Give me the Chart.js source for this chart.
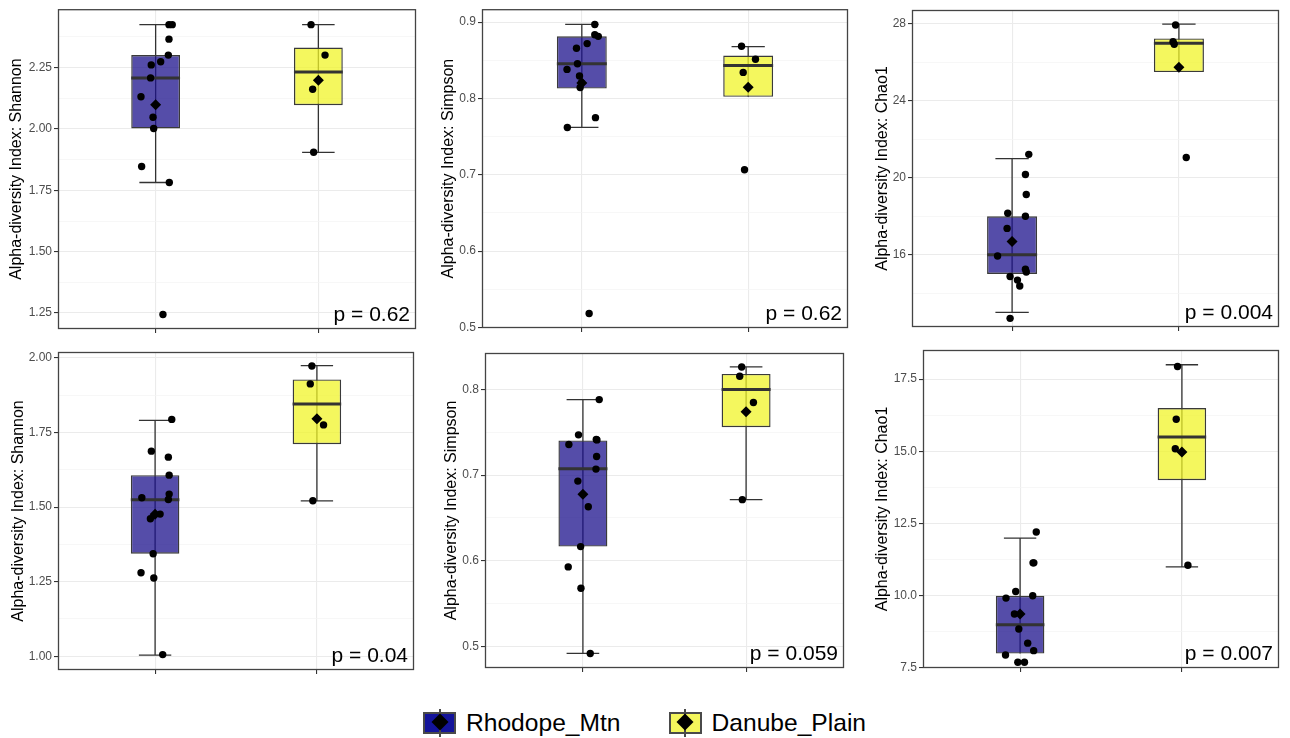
<!DOCTYPE html>
<html>
<head>
<meta charset="utf-8">
<script src="https://cdn.jsdelivr.net/npm/chart.js@4.4.0/dist/chart.umd.min.js"></script>
<style>
    body { margin: 0; background: #fff; width: 1290px; height: 738px; position: relative; overflow: hidden;
           font-family: "Liberation Sans", Arial, sans-serif; }
    .painel { position: absolute; }
    #legenda { position: absolute; left: 423px; top: 707px; height: 32px; display: flex; align-items: center; }
    .item { display: flex; align-items: center; font-size: 24.6px; color: #000; margin-right: 48px; }
    .chave { position: relative; width: 33px; height: 22px; box-sizing: border-box; border: 2px solid #4a4a4a; margin-right: 10px; }
    .chave::before { content: ''; position: absolute; left: 13.5px; top: -5px; width: 2px; height: 28px; background: #4a4a4a; }
    .chave::after { content: ''; position: absolute; left: 8.5px; top: 1.5px; width: 12px; height: 12px; background: #000; transform: rotate(45deg); }
</style>
</head>
<body>
<div id="paineis"></div>
<div id="legenda"></div>
<script>
// Grupos e índices de diversidade
const grupos = ['Rhodope_Mtn', 'Danube_Plain'];
const indices = ['Shannon', 'Simpson', 'Chao1', 'Shannon', 'Simpson', 'Chao1'];
const valoresP = ['0.62', '0.62', '0.004', '0.04', '0.059', '0.007'];

// Eixo y de cada painel: [min, max], marcas principais e casas decimais
const limitesY = [[1.185, 2.488], [0.4992, 0.917], [12.24, 28.73], [0.954, 2.02], [0.4748, 0.8427], [7.5, 18.51]];
const ticksY = [
    [1.25, 1.5, 1.75, 2.0, 2.25],
    [0.5, 0.6, 0.7, 0.8, 0.9],
    [16, 20, 24, 28],
    [1.0, 1.25, 1.5, 1.75, 2.0],
    [0.5, 0.6, 0.7, 0.8],
    [7.5, 10, 12.5, 15, 17.5]
];
const casasY = [2, 1, 0, 2, 1, 1];

// Caixas: [bigode inferior, q1, mediana, q3, bigode superior]
const caixasRhodope = [
    [1.782, 2.002, 2.208, 2.301, 2.425],
    [0.762, 0.813, 0.8455, 0.8814, 0.897],
    [13, 15, 16, 18, 21],
    [1.004, 1.344, 1.525, 1.607, 1.791],
    [0.4918, 0.6166, 0.7075, 0.7406, 0.7883],
    [8, 8, 9, 10, 12]
];
const caixasDanube = [
    [1.905, 2.097, 2.232, 2.332, 2.425],
    [0.8022, 0.8022, 0.8433, 0.8563, 0.868],
    [25.5, 25.5, 27, 27.25, 28],
    [1.521, 1.711, 1.846, 1.928, 1.974],
    [0.6714, 0.7561, 0.80, 0.8183, 0.8264],
    [11, 14, 15.5, 16.5, 18]
];
const mediasRhodope = [2.099, 0.8203, 16.69, 1.476, 0.6776, 9.37];
const mediasDanube = [2.199, 0.8147, 25.75, 1.796, 0.774, 14.98];

// Amostras (valores lidos) e deslocamento horizontal do jitter
const pontosRhodope = [
    [2.425, 2.425, 2.366, 2.301, 2.274, 2.261, 2.208, 2.131, 2.048, 2.002, 1.847, 1.782, 1.244],
    [0.897, 0.8835, 0.8814, 0.8719, 0.8658, 0.8455, 0.8381, 0.8294, 0.8208, 0.8143, 0.7749, 0.7619, 0.5182],
    [21.22, 20.17, 19.13, 18.16, 18.0, 17.37, 15.93, 15.25, 15.10, 14.87, 14.68, 14.37, 12.69],
    [1.794, 1.6876, 1.6675, 1.6072, 1.5436, 1.5313, 1.5257, 1.4766, 1.461, 1.3438, 1.2802, 1.2623, 1.0057],
    [0.7883, 0.7471, 0.7417, 0.7412, 0.7359, 0.7219, 0.7071, 0.6931, 0.6632, 0.6166, 0.5929, 0.568, 0.4918],
    [12.21, 11.14, 11.14, 10.15, 10.0, 9.92, 9.37, 8.85, 8.36, 8.1, 7.95, 7.7, 7.7]
];
const jitterRhodope = [
    [0.082, 0.102, 0.082, 0.078, 0.031, -0.027, -0.031, -0.09, -0.016, -0.012, -0.086, 0.084, 0.045],
    [0.078, 0.078, 0.099, 0.032, -0.032, -0.026, -0.089, -0.014, -0.002, -0.01, 0.082, -0.087, 0.044],
    [0.1, 0.08, 0.085, -0.026, 0.08, -0.03, -0.087, 0.08, 0.085, -0.012, 0.032, 0.046, -0.012],
    [0.103, -0.023, 0.082, 0.087, 0.087, -0.082, 0.082, 0.031, -0.029, -0.012, -0.087, -0.008, 0.047],
    [0.1, -0.027, 0.082, 0.086, -0.086, 0.084, 0.08, -0.031, 0.033, -0.014, -0.09, -0.012, 0.045],
    [0.1, 0.08, 0.085, -0.027, 0.078, -0.087, -0.035, -0.008, 0.047, 0.084, -0.09, -0.014, 0.027]
];
const pontosDanube = [
    [2.425, 2.301, 2.162, 1.905],
    [0.8684, 0.8515, 0.8342, 0.7065],
    [27.95, 27.08, 26.95, 21.06],
    [1.9732, 1.913, 1.7757, 1.5213],
    [0.8264, 0.8155, 0.7848, 0.6714],
    [17.94, 16.11, 15.09, 11.06]
];
const jitterDanube = [
    [-0.045, 0.041, -0.035, -0.029],
    [-0.04, 0.044, -0.03, -0.022],
    [-0.02, -0.035, -0.028, 0.044],
    [-0.031, -0.041, 0.041, -0.025],
    [-0.027, -0.039, 0.045, -0.023],
    [-0.027, -0.035, -0.041, 0.037]
];

// Posição de cada painel na página e margens da área do gráfico
const layout = [
    { left: 0,   top: 0,   w: 425, h: 340, eixoY: 58, tituloPad: 7,  topo: 7,  dir: 9,  eixoX: 11 },
    { left: 425, top: 0,   w: 430, h: 340, eixoY: 57, tituloPad: 14, topo: 7,  dir: 7,  eixoX: 12 },
    { left: 855, top: 0,   w: 435, h: 340, eixoY: 57, tituloPad: 18, topo: 10, dir: 11, eixoX: 13 },
    { left: 0,   top: 340, w: 425, h: 350, eixoY: 58, tituloPad: 9,  topo: 12, dir: 11, eixoX: 20 },
    { left: 425, top: 340, w: 430, h: 350, eixoY: 60, tituloPad: 17, topo: 13, dir: 11, eixoX: 22 },
    { left: 855, top: 340, w: 435, h: 350, eixoY: 68, tituloPad: 18, topo: 10, dir: 11, eixoX: 22 }
];
const corCaixa = ['rgba(28,18,140,0.75)', 'rgba(240,244,40,0.75)'];
const corLegenda = ['#14149a', '#f4f65c'];
const FONTE = '"Liberation Sans", Arial, sans-serif';

// Bigodes, medianas, moldura e valor p
const pluginBoxplot = {
    id: 'boxplot',
    beforeDatasetsDraw(chart, args, opts) {
        const { ctx, scales: { x, y } } = chart;
        ctx.save();
        ctx.strokeStyle = '#333';
        ctx.lineWidth = 1.3;
        opts.caixas.forEach((c, i) => {
            const cx = x.getPixelForValue(i + 1);
            const meio = x.getPixelForValue(i + 1.1) - cx;
            const yb = y.getPixelForValue(c[0]);
            const yt = y.getPixelForValue(c[4]);
            ctx.beginPath();
            ctx.moveTo(cx, yb); ctx.lineTo(cx, yt);
            ctx.moveTo(cx - meio, yt); ctx.lineTo(cx + meio, yt);
            if (c[0] < c[1]) { ctx.moveTo(cx - meio, yb); ctx.lineTo(cx + meio, yb); }
            ctx.stroke();
        });
        ctx.restore();
    },
    afterDatasetDraw(chart, args, opts) {
        if (args.meta.type !== 'bar') return;
        const { ctx, scales: { x, y } } = chart;
        ctx.save();
        ctx.strokeStyle = '#333';
        ctx.lineWidth = 3;
        opts.caixas.forEach((c, i) => {
            const x0 = x.getPixelForValue(i + 1 - 0.15);
            const x1 = x.getPixelForValue(i + 1 + 0.15);
            const ym = y.getPixelForValue(c[2]);
            ctx.beginPath();
            ctx.moveTo(x0, ym); ctx.lineTo(x1, ym);
            ctx.stroke();
        });
        ctx.restore();
    },
    afterDraw(chart, args, opts) {
        const { ctx, chartArea: a } = chart;
        ctx.save();
        ctx.strokeStyle = '#444';
        ctx.lineWidth = 1.3;
        ctx.strokeRect(a.left + 0.5, a.top + 0.5, a.right - a.left - 1, a.bottom - a.top - 1);
        ctx.fillStyle = '#000';
        ctx.font = '21px ' + FONTE;
        ctx.textAlign = 'right';
        ctx.fillText('p = ' + opts.p, a.right - 6, a.bottom - 8);
        ctx.restore();
    }
};

function criarPainel(i) {
    const L = layout[i];
    const div = document.createElement('div');
    div.className = 'painel';
    div.style.cssText = `left:${L.left}px;top:${L.top}px;width:${L.w}px;height:${L.h}px`;
    const canvas = document.createElement('canvas');
    div.appendChild(canvas);
    document.getElementById('paineis').appendChild(div);

    const [ymin, ymax] = limitesY[i];
    const principais = ticksY[i];
    const passo = principais[1] - principais[0];
    const todos = principais.slice();
    for (let v = principais[0] - passo / 2; v <= ymax; v += passo) {
        if (v >= ymin) todos.push(v);
    }
    todos.sort((a, b) => a - b);
    const ehPrincipal = v => principais.some(p => Math.abs(p - v) < 1e-9);

    const caixas = [caixasRhodope[i], caixasDanube[i]];
    new Chart(canvas, {
        type: 'bar',
        data: {
            datasets: [
                {
                    type: 'scatter',
                    data: pontosRhodope[i].map((v, k) => ({ x: 1 + jitterRhodope[i][k], y: v }))
                        .concat(pontosDanube[i].map((v, k) => ({ x: 2 + jitterDanube[i][k], y: v }))),
                    backgroundColor: '#000',
                    borderWidth: 0,
                    pointRadius: 3.7,
                    order: 0
                },
                {
                    type: 'scatter',
                    data: [{ x: 1, y: mediasRhodope[i] }, { x: 2, y: mediasDanube[i] }],
                    backgroundColor: '#000',
                    borderWidth: 0,
                    pointStyle: 'rectRot',
                    pointRadius: 5.5,
                    order: 0
                },
                {
                    type: 'bar',
                    data: caixas.map((c, k) => ({ x: k + 1, y: [c[1], c[3]] })),
                    backgroundColor: corCaixa,
                    borderColor: '#3a3a3a',
                    borderWidth: 1.4,
                    borderSkipped: false,
                    barPercentage: 0.3,
                    categoryPercentage: 1,
                    order: 1
                }
            ]
        },
        options: {
            responsive: true,
            maintainAspectRatio: false,
            animation: false,
            events: [],
            layout: { padding: { top: L.topo, right: L.dir, left: 0, bottom: 0 } },
            plugins: {
                legend: { display: false },
                tooltip: { enabled: false },
                boxplot: { caixas: caixas, p: valoresP[i] }
            },
            scales: {
                x: {
                    type: 'linear',
                    min: 0.4,
                    max: 2.6,
                    offset: false,
                    afterBuildTicks: s => { s.ticks = [{ value: 1 }, { value: 2 }]; },
                    afterFit: s => { s.height = L.eixoX; },
                    ticks: { display: false },
                    grid: { offset: false, color: '#ebebeb', lineWidth: 1.1, tickLength: 4, tickColor: '#333' },
                    border: { display: false }
                },
                y: {
                    min: ymin,
                    max: ymax,
                    afterBuildTicks: s => { s.ticks = todos.map(v => ({ value: v })); },
                    afterFit: s => { s.width = L.eixoY; },
                    ticks: {
                        autoSkip: false,
                        color: '#4d4d4d',
                        padding: 2,
                        font: { family: FONTE, size: 12 },
                        callback: v => ehPrincipal(v) ? v.toFixed(casasY[i]) : ''
                    },
                    grid: {
                        color: c => ehPrincipal(c.tick.value) ? '#ebebeb' : '#f4f4f4',
                        lineWidth: c => ehPrincipal(c.tick.value) ? 1.1 : 0.7,
                        tickLength: 4,
                        tickColor: c => ehPrincipal(c.tick.value) ? '#333' : 'rgba(0,0,0,0)'
                    },
                    border: { display: false },
                    title: {
                        display: true,
                        text: 'Alpha-diversity Index: ' + indices[i],
                        color: '#000',
                        font: { family: FONTE, size: 16 },
                        padding: { top: L.tituloPad, bottom: 0 }
                    }
                }
            }
        },
        plugins: [pluginBoxplot]
    });
}

for (let i = 0; i < indices.length; i++) criarPainel(i);

// Legenda
const legenda = document.getElementById('legenda');
grupos.forEach((g, k) => {
    const item = document.createElement('span');
    item.className = 'item';
    const chave = document.createElement('span');
    chave.className = 'chave';
    chave.style.background = corLegenda[k];
    item.appendChild(chave);
    item.appendChild(document.createTextNode(g));
    legenda.appendChild(item);
});
</script>
</body>
</html>
